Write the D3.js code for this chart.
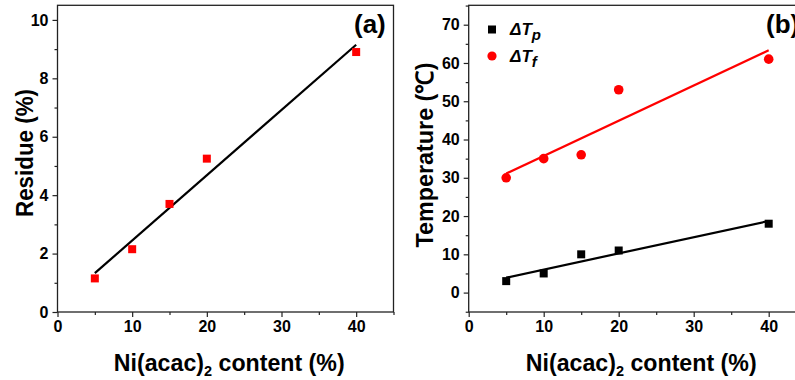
<!DOCTYPE html>
<html><head><meta charset="utf-8">
<script src="https://cdn.jsdelivr.net/npm/d3@7"></script>
<style>body{margin:0;background:#fff}svg{display:block}</style>
</head><body>
<svg id="c" width="795" height="380"></svg>
<script>
// data
const content = [5, 10, 15, 20, 40];
const residue = [1.15, 2.15, 3.7, 5.25, 8.9];
const residueFit = [[5, 1.33], [40, 9.15]];
const dTp = [3, 5, 10, 11, 18];
const dTf = [30, 35, 36, 53, 61];
const dTpFit = [[5, 3.9], [40, 18.7]];
const dTfFit = [[5, 31.1], [40, 63.3]];
const xTicks = [0, 10, 20, 30, 40];
const xMinor = [5, 15, 25, 35, 45];
const yTicksA = [0, 2, 4, 6, 8, 10];
const yMinorA = [1, 3, 5, 7, 9];
const yTicksB = [0, 10, 20, 30, 40, 50, 60, 70];
const yMinorB = [-5, 5, 15, 25, 35, 45, 55, 65, 75];
const legendLabels = [["ΔT", "p"], ["ΔT", "f"]];

const svg = d3.select("#c");
const FONT = "'Liberation Sans', Arial, sans-serif";

function panel(opts) {
  const g = svg.append("g");
  const x = d3.scaleLinear().domain([0, 45]).range(opts.xr);
  const y = d3.scaleLinear().domain(opts.yd).range([312, 5.3]);
  const [x0, x1] = opts.xr;
  g.append("g").attr("transform", `translate(0,312)`)
    .call(d3.axisBottom(x).tickValues(xMinor).tickSize(3).tickFormat(""));
  g.append("g").attr("transform", `translate(${x0},0)`)
    .call(d3.axisLeft(y).tickValues(opts.yMinor).tickSize(3).tickFormat(""));
  const xa = g.append("g").attr("transform", `translate(0,312)`)
    .call(d3.axisBottom(x).tickValues(xTicks).tickSize(5).tickPadding(4));
  const ya = g.append("g").attr("transform", `translate(${x0},0)`)
    .call(d3.axisLeft(y).tickValues(opts.yTicks).tickSize(5).tickPadding(4));
  [xa, ya].forEach(a => {
    a.selectAll("text").attr("font-family", FONT).attr("font-weight", "bold")
      .attr("font-size", 16).attr("fill", "#000");
  });
  g.selectAll(".tick line").attr("stroke", "#222").attr("stroke-width", 1.2);
  g.selectAll(".domain").remove();
  g.append("rect").attr("x", x0).attr("y", 5.3).attr("width", x1 - x0).attr("height", 312 - 5.3)
    .attr("fill", "none").attr("stroke", "#222").attr("stroke-width", 1.3);
  // x title (horizontally condensed to match the reference width)
  const xg = g.append("g");
  const xt = xg.append("text").attr("x", 0).attr("y", 0)
    .attr("text-anchor", "middle").attr("font-family", FONT).attr("font-weight", "bold")
    .attr("font-size", 24).attr("fill", "#000");
  xt.append("tspan").text("Ni(acac)");
  xt.append("tspan").text("2").attr("font-size", 15).attr("dy", 5);
  xt.append("tspan").text(" content (%)").attr("dy", -5);
  const w = xt.node().getComputedTextLength() || 250;
  xg.attr("transform", `translate(${x(23)},371) scale(${231 / w},1)`);
  // y title
  g.append("text").attr("transform", `translate(${opts.ytx},${opts.tyc}) rotate(-90)`)
    .attr("text-anchor", "middle").attr("font-family", FONT).attr("font-weight", "bold")
    .attr("font-size", 24).attr("fill", "#000")
    .attr("textLength", opts.tlen).attr("lengthAdjust", "spacingAndGlyphs").text(opts.ytitle);
  g.append("text").attr("x", opts.lx).attr("y", 33).attr("font-family", FONT)
    .attr("font-weight", "bold").attr("font-size", 26).attr("fill", "#000").text(opts.label);
  return {g, x, y};
}

const line = (x, y) => d3.line().x(d => x(d[0])).y(d => y(d[1]));

// Panel a
const A = panel({xr: [57.5, 393.5], yd: [0, 10.5], yTicks: yTicksA, yMinor: yMinorA,
  ytx: 33, tyc: 153, tlen: 128, ytitle: "Residue (%)", lx: 354, label: "(a)"});
A.g.append("path").datum(residueFit).attr("d", line(A.x, A.y))
  .attr("stroke", "#000").attr("stroke-width", 2.2).attr("fill", "none");
A.g.selectAll("rect.pt").data(content).enter().append("rect").attr("class", "pt")
  .attr("x", d => A.x(d) - 4).attr("y", (d, i) => A.y(residue[i]) - 4)
  .attr("width", 8).attr("height", 8).attr("fill", "#ff0000");

// Panel b
const B = panel({xr: [468.7, 806.2], yd: [-5.07, 75.07], yTicks: yTicksB, yMinor: yMinorB,
  ytx: 433, tyc: 155, tlen: 185, ytitle: "Temperature (℃)", lx: 766, label: "(b)"});
B.g.append("path").datum(dTfFit).attr("d", line(B.x, B.y))
  .attr("stroke", "#ff0000").attr("stroke-width", 2.2).attr("fill", "none");
B.g.append("path").datum(dTpFit).attr("d", line(B.x, B.y))
  .attr("stroke", "#000").attr("stroke-width", 2.2).attr("fill", "none");
B.g.selectAll("rect.pt").data(content).enter().append("rect").attr("class", "pt")
  .attr("x", d => B.x(d) - 4).attr("y", (d, i) => B.y(dTp[i]) - 4)
  .attr("width", 8).attr("height", 8).attr("fill", "#000");
B.g.selectAll("circle.pt").data(content).enter().append("circle").attr("class", "pt")
  .attr("cx", d => B.x(d)).attr("cy", (d, i) => B.y(dTf[i])).attr("r", 4.8).attr("fill", "#ff0000");

// legend
const lg = svg.append("g");
lg.append("rect").attr("x", 488).attr("y", 25.5).attr("width", 8).attr("height", 8).attr("fill", "#000");
lg.append("circle").attr("cx", 492).attr("cy", 56).attr("r", 4.6).attr("fill", "#ff0000");
legendLabels.forEach((l, i) => {
  const t = lg.append("text").attr("x", 510).attr("y", 35 + i * 27).attr("font-family", FONT)
    .attr("font-weight", "bold").attr("font-style", "italic").attr("font-size", 17).attr("fill", "#000");
  t.append("tspan").text(l[0]);
  t.append("tspan").text(l[1]).attr("font-size", 15).attr("dy", 5);
});
</script>
</body></html>
